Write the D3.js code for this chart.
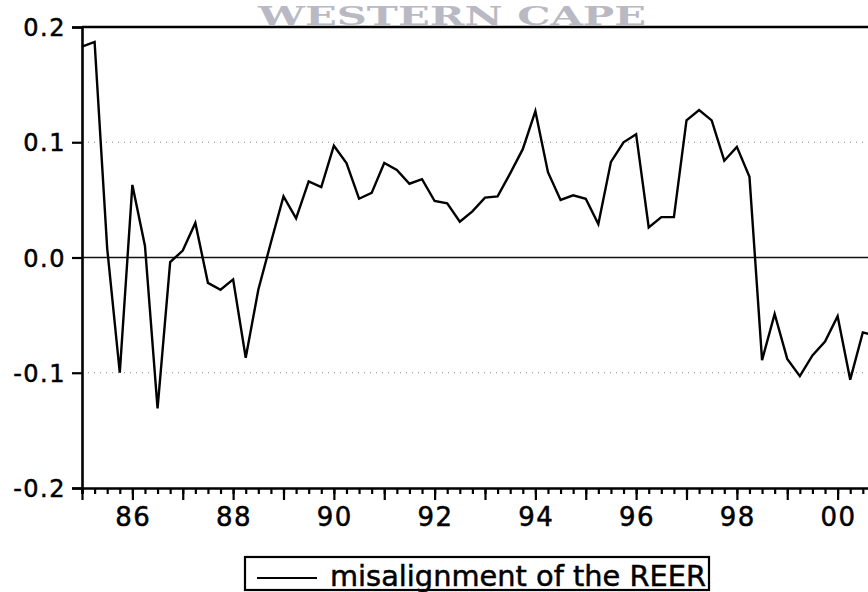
<!DOCTYPE html>
<html>
<head>
<meta charset="utf-8">
<script src="https://cdn.jsdelivr.net/npm/d3@7/dist/d3.min.js"></script>
<style>
  body { margin: 0; background: #fff; }
  svg { display: block; }
</style>
</head>
<body>
<svg id="chart"></svg>
<script>
// quarterly series, 1985Q1 .. 2000Q4
const startYear = 1985
const misalignment = [
  0.183, 0.187, 0.008, -0.100,
  0.063, 0.010, -0.131, -0.004,
  0.006, 0.030, -0.022, -0.028,
  -0.019, -0.087, -0.028, 0.013,
  0.053, 0.034, 0.066, 0.061,
  0.097, 0.082, 0.051, 0.056,
  0.082, 0.076, 0.064, 0.068,
  0.049, 0.047, 0.031, 0.040,
  0.052, 0.053, 0.073, 0.094,
  0.127, 0.074, 0.050, 0.054,
  0.051, 0.029, 0.083, 0.100,
  0.107, 0.026, 0.035, 0.035,
  0.119, 0.128, 0.119, 0.084,
  0.096, 0.070, -0.089, -0.049,
  -0.088, -0.103, -0.085, -0.073,
  -0.051, -0.106, -0.065, -0.068
]
const yTicks = [-0.2, -0.1, 0, 0.1, 0.2]
const yGrid = [-0.1, 0.1]
const xLabelYears = [1986, 1988, 1990, 1992, 1994, 1996, 1998, 2000]
const seriesName = "misalignment of the REER"
const watermark = "WESTERN CAPE"

const width = 868
const height = 592

const svg = d3.select('#chart')
  .attr('width', width)
  .attr('height', height)

const x = d3.scaleLinear()
  .domain([1985, 2001])
  .range([82, 888])

const y = d3.scaleLinear()
  .domain([-0.2, 0.2])
  .range([488, 27])

const data = misalignment.map((v, i) => ({ t: startYear + i / 4, v: v }))

// grid lines at +-0.1 (sparse dots)
svg.append('g')
  .selectAll('line')
  .data(yGrid)
  .enter().append('line')
  .attr('x1', x.range()[0])
  .attr('x2', width)
  .attr('y1', d => y(d))
  .attr('y2', d => y(d))
  .style('stroke', '#888')
  .style('stroke-width', 1)
  .style('stroke-dasharray', '1,5')

// zero line
svg.append('line')
  .attr('x1', x.range()[0])
  .attr('x2', width)
  .attr('y1', y(0))
  .attr('y2', y(0))
  .style('stroke', '#111')
  .style('stroke-width', 1.6)

// scanned page watermark
svg.append('text')
  .attr('x', 258)
  .attr('y', 25)
  .attr('textLength', 388)
  .attr('lengthAdjust', 'spacingAndGlyphs')
  .style('font-family', 'DejaVu Serif')
  .style('font-weight', 'bold')
  .style('font-size', '26px')
  .style('fill', '#b9b9c4')
  .text(watermark)

// top frame
svg.append('line')
  .attr('x1', x.range()[0])
  .attr('x2', width)
  .attr('y1', y(0.2))
  .attr('y2', y(0.2))
  .style('stroke', '#000')
  .style('stroke-width', 2.4)

// y axis
const yAxis = svg.append('g')
  .attr('transform', 'translate(' + x.range()[0] + ',0)')
  .call(d3.axisLeft(y)
    .tickValues(yTicks)
    .tickSize(10)
    .tickPadding(6)
    .tickFormat(d => d3.format('.1f')(d).replace('\u2212', '-')))

yAxis.select('.domain').style('stroke-width', 2.6)
yAxis.selectAll('.tick line').style('stroke-width', 2.2)
yAxis.selectAll('.tick text')
  .attr('dy', '0.36em')
  .style('font-family', 'DejaVu Sans')
  .style('font-size', '24px')
  .style('letter-spacing', '1.5px')
  .style('fill', '#000')
  .style('stroke', '#000')
  .style('stroke-width', 0.5)

// x axis: quarter minor ticks, year major ticks
const quarters = data.map(d => d.t).concat([2001])
const years = d3.range(1985, 2002)

const xMinor = svg.append('g')
  .attr('transform', 'translate(0,' + y(-0.2) + ')')
  .call(d3.axisBottom(x).tickValues(quarters).tickSize(6).tickFormat(''))
xMinor.select('.domain').style('stroke-width', 2.6)
xMinor.selectAll('.tick line').style('stroke-width', 2.2)

const xMajor = svg.append('g')
  .attr('transform', 'translate(0,' + y(-0.2) + ')')
  .call(d3.axisBottom(x).tickValues(years).tickSize(12).tickFormat(''))
xMajor.select('.domain').remove()
xMajor.selectAll('.tick line').style('stroke-width', 2.2)

svg.append('g')
  .selectAll('text')
  .data(xLabelYears)
  .enter().append('text')
  .attr('x', d => x(d) + 1)
  .attr('y', 526)
  .attr('text-anchor', 'middle')
  .style('font-family', 'DejaVu Sans')
  .style('font-size', '26px')
  .style('letter-spacing', '1.5px')
  .style('stroke', '#000')
  .style('stroke-width', 0.5)
  .text(d => String(d).slice(2))

// the series
const line = d3.line()
  .x(d => x(d.t))
  .y(d => y(d.v))

svg.append('path')
  .datum(data)
  .attr('d', line)
  .style('fill', 'none')
  .style('stroke', '#000')
  .style('stroke-width', 2.4)
  .style('stroke-linejoin', 'miter')

// legend
const legend = svg.append('g')
legend.append('rect')
  .attr('x', 245)
  .attr('y', 557)
  .attr('width', 464)
  .attr('height', 33)
  .style('fill', 'none')
  .style('stroke', '#000')
  .style('stroke-width', 2.2)
legend.append('line')
  .attr('x1', 257)
  .attr('x2', 317)
  .attr('y1', 578)
  .attr('y2', 578)
  .style('stroke', '#000')
  .style('stroke-width', 1.8)
legend.append('text')
  .attr('x', 330)
  .attr('y', 586)
  .attr('textLength', 376)
  .attr('lengthAdjust', 'spacingAndGlyphs')
  .style('font-family', 'DejaVu Sans')
  .style('font-size', '29px')
  .style('stroke', '#000')
  .style('stroke-width', 0.5)
  .text(seriesName)
</script>
</body>
</html>
